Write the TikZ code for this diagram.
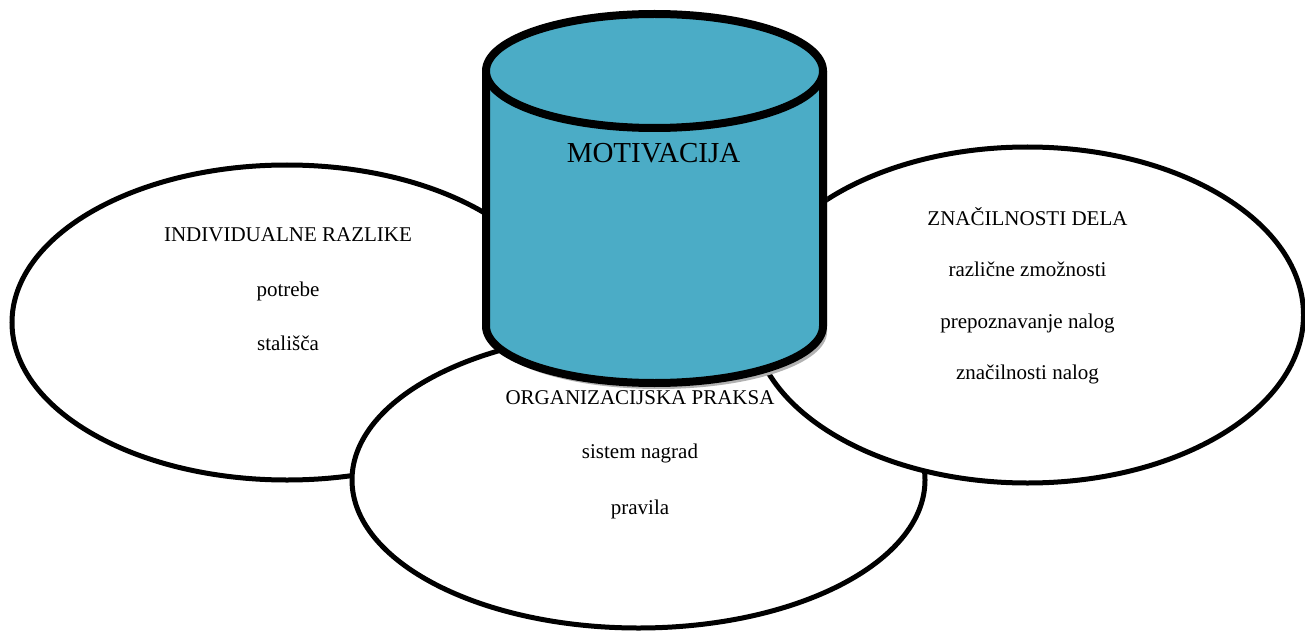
\documentclass[tikz,border=0pt]{standalone}
\usepackage{fontspec}
\setmainfont{Liberation Serif}
\usetikzlibrary{shapes.geometric}
\definecolor{cylfill}{RGB}{75,172,198}
\tikzset{
  oval/.style={draw=black, fill=white, line width=5pt, ellipse, inner sep=0pt},
  lbl/.style={anchor=base, inner sep=0pt, font=\fontsize{21}{25}\selectfont},
  cylline/.style={draw=black, line width=8pt, line join=round}
}
\begin{document}
\begin{tikzpicture}[x=1pt,y=1pt]
\useasboundingbox (0,0) rectangle (1305,633);
% ovals: left, bottom, right
\node[oval, minimum width=550pt, minimum height=315pt] (left) at (287,310.5) {};
\node[oval, minimum width=573pt, minimum height=296pt] (bottom) at (638.5,153) {};
\node[oval, minimum width=552pt, minimum height=336pt] (right) at (1027.5,318) {};
% texts
\node[lbl] (l1) at (288,392) {INDIVIDUALNE RAZLIKE};
\node[lbl] (l2) at (288,337) {potrebe};
\node[lbl] (l3) at (288,283) {stališča};
\node[lbl] (r1) at (1027.5,408) {ZNAČILNOSTI DELA};
\node[lbl] (r2) at (1027.5,357) {različne zmožnosti};
\node[lbl] (r3) at (1027.5,305) {prepoznavanje nalog};
\node[lbl] (r4) at (1027.5,254) {značilnosti nalog};
\node[lbl] (b1) at (640,229) {ORGANIZACIJSKA PRAKSA};
\node[lbl] (b2) at (640,175) {sistem nagrad};
\node[lbl] (b3) at (640,119) {pravila};
% cylinder shadow
\fill[gray!60] (490,562) -- (490,301) arc[start angle=180, end angle=360, x radius=168.5, y radius=57] -- (827,562) -- cycle;
% cylinder body
\fill[cylfill] (486,562) -- (486,307) arc[start angle=180, end angle=360, x radius=168.5, y radius=57] -- (823,562) arc[start angle=0, end angle=180, x radius=168.5, y radius=57] -- cycle;
\draw[cylline] (486,562) -- (486,307) arc[start angle=180, end angle=360, x radius=168.5, y radius=57] -- (823,562);
\draw[cylline, fill=cylfill] (654.5,562) ellipse [x radius=168.5, y radius=57];
\node[anchor=base, inner sep=0pt, font=\fontsize{29}{33}\selectfont] (mot) at (653.5,470) {MOTIVACIJA};
\end{tikzpicture}
\end{document}
